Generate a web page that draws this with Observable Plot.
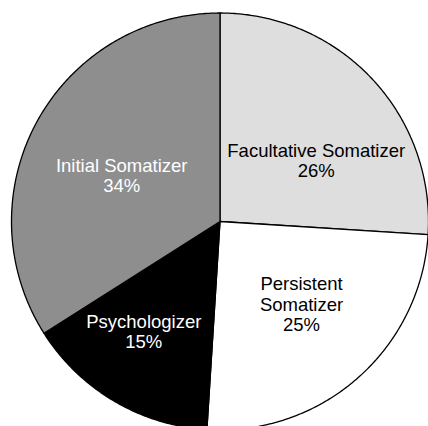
<!DOCTYPE html>
<html>
<head>
<meta charset="utf-8">
<script src="https://cdn.jsdelivr.net/npm/d3@7"></script>
<script src="https://cdn.jsdelivr.net/npm/@observablehq/plot@0.6"></script>
<style>
  html, body { margin: 0; padding: 0; background: #fff; overflow: hidden; }
  #chart svg { display: block; }
</style>
</head>
<body>
<div id="chart"></div>
<script>
// ---- data ----
const categories = ["Facultative Somatizer", "Persistent Somatizer", "Psychologizer", "Initial Somatizer"];
const displayLabels = ["Facultative Somatizer", "Persistent\nSomatizer", "Psychologizer", "Initial Somatizer"];
const percents = [26, 25, 15, 34];

// ---- style / layout (not data) ----
const sliceColors = ["#dedede", "#ffffff", "#000000", "#8e8e8e"];
const textColors = ["#000000", "#000000", "#ffffff", "#ffffff"];
// label placement: angle nudge (deg) from mid-angle and radius fraction
const labelPlacement = [
  {da: 10.9, rf: 0.546},
  {da: -3.2, rf: 0.557},
  {da: 4.1, rf: 0.642},
  {da: -3.6, rf: 0.521}
];

const W = 428, H = 426;
const cx = 219.5, cy = 221, R = 208.5;

const pie = d3.pie().sort(null).value(d => d.value);
const arcs = pie(categories.map((c, i) => ({name: c, value: percents[i], i})));

// slice outlines as polygons in unit-circle coordinates
const slicePts = [];
arcs.forEach(a => {
  const name = a.data.name;
  slicePts.push({name, x: 0, y: 0});
  const n = Math.max(2, Math.ceil((a.endAngle - a.startAngle) / (Math.PI / 360)));
  for (let k = 0; k <= n; k++) {
    const t = a.startAngle + (a.endAngle - a.startAngle) * k / n;
    slicePts.push({name, x: Math.sin(t), y: Math.cos(t)});
  }
  slicePts.push({name, x: 0, y: 0});
});

const labelData = arcs.map(a => {
  const i = a.data.i;
  const p = labelPlacement[i];
  const mid = (a.startAngle + a.endAngle) / 2 + p.da * Math.PI / 180;
  return {
    name: a.data.name,
    x: Math.sin(mid) * p.rf,
    y: Math.cos(mid) * p.rf,
    text: displayLabels[i] + "\n" + percents[i] + "%",
    color: textColors[i]
  };
});

const chart = Plot.plot({
  width: W,
  height: H,
  margin: 0,
  style: {background: "#fff", overflow: "hidden"},
  x: {axis: null, domain: [-cx / R, (W - cx) / R], range: [0, W]},
  y: {axis: null, domain: [cy / R, -(H - cy) / R], range: [0, H]},
  color: {domain: categories, range: sliceColors},
  marks: [
    Plot.line(slicePts, {
      x: "x", y: "y", z: "name",
      fill: "name",
      stroke: "#000",
      strokeWidth: 1.3,
      strokeLinejoin: "round",
      curve: "linear",
      clip: true
    }),
    Plot.text(labelData, {
      x: "x", y: "y",
      text: "text",
      fill: d => d.color,
      fontSize: 18.5,
      fontFamily: "Liberation Sans, Arial, Helvetica, sans-serif",
      lineHeight: 1.1,
      textAnchor: "middle",
      lineAnchor: "middle"
    })
  ]
});

document.getElementById("chart").appendChild(chart);
</script>
</body>
</html>
